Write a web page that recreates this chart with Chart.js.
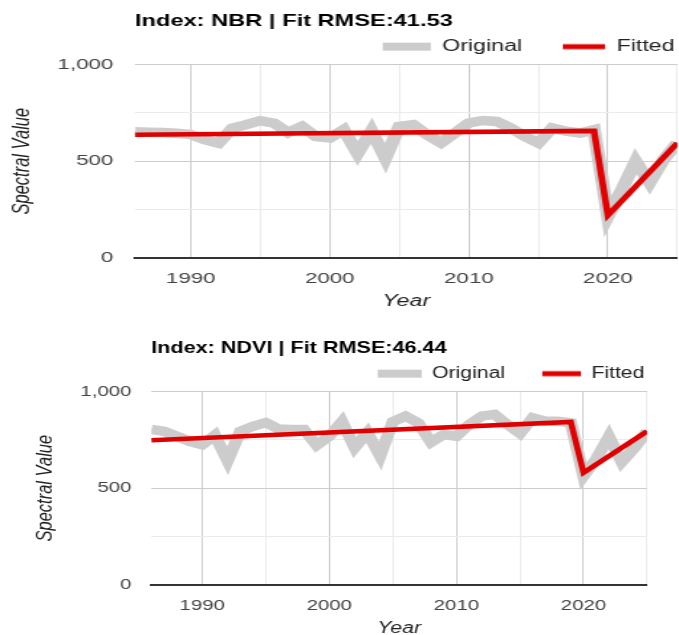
<!DOCTYPE html>
<html>
<head>
<meta charset="utf-8">
<script src="https://cdn.jsdelivr.net/npm/chart.js@4/dist/chart.umd.min.js"></script>
<style>
  html, body { margin: 0; padding: 0; background: #fff; width: 679px; height: 635px; overflow: hidden; }
  .wrap { position: absolute; left: 0; transform-origin: 0 0; }
  canvas { display: block; }
</style>
</head>
<body>
<div class="wrap" style="top:0px; transform:scaleX(1.4509);"><canvas id="c1" width="468" height="320"></canvas></div>
<div class="wrap" style="top:327px; transform:scaleX(1.3262);"><canvas id="c2" width="512" height="320"></canvas></div>
<script>
// ---------------- data ----------------
const years = [1986, 1987, 1988, 1989, 1990, 1991, 1992, 1993, 1994, 1995,
               1996, 1997, 1998, 1999, 2000, 2001, 2002, 2003, 2004, 2005,
               2006, 2007, 2008, 2009, 2010, 2011, 2012, 2013, 2014, 2015,
               2016, 2017, 2018, 2019, 2020, 2021, 2022, 2023, 2024, 2025];

const nbrOriginal = [652, 650, 648, 645, 638, 612, 593, 671, 689, 710,
                     697, 648, 680, 628, 620, 663, 540, 658, 515, 680,
                     689, 637, 594, 646, 698, 711, 706, 672, 629, 594,
                     672, 655, 646, 663, 214, 352, 500, 388, 508, 595];
const nbrFitYears = [1986, 2019, 2020, 2025];
const nbrFitted   = [637, 657, 220, 594];

const ndviOriginal = [805, 795, 769, 743, 725, 775, 642, 795, 821, 840,
                      807, 804, 804, 722, 769, 845, 710, 788, 667, 845,
                      873, 838, 738, 778, 769, 830, 873, 882, 830, 783,
                      865, 847, 847, 838, 563, 650, 767, 635, 708, 795];
const ndviFitYears = [1986, 2019, 2020, 2025];
const ndviFitted   = [748, 843, 580, 795];

const xTickLabels = [1990, 2000, 2010, 2020];
const yTickLabels = [0, 500, 1000];
const seriesNames = ['Original', 'Fitted'];

// ---------------- styling ----------------
const FONT = "'Liberation Sans', Arial, sans-serif";
const GRAY = '#cccccc';
const RED = '#e00000';

function makeSwatch(color, w, h) {
  const c = document.createElement('canvas');
  c.width = 55; c.height = 12;
  const g = c.getContext('2d');
  g.fillStyle = color;
  g.fillRect(55 - w, (12 - h) / 2, w, h);
  return c;
}
const swatches = [makeSwatch(GRAY, 33, 8), makeSwatch(RED, 29, 5)];

function buildChart(canvasId, titleText, original, fitYears, fitted, yAxisWidth, yTitlePad, rightPad) {
  const origData = years.map((yr, i) => ({ x: yr, y: original[i] }));
  const fitData = fitYears.map((yr, i) => ({ x: yr, y: fitted[i] }));
  return new Chart(document.getElementById(canvasId), {
    type: 'line',
    data: {
      datasets: [
        { label: seriesNames[0], data: origData, borderColor: GRAY, backgroundColor: GRAY,
          borderWidth: 9.5, pointRadius: 0, fill: false, tension: 0, order: 1 },
        { label: seriesNames[1], data: fitData, borderColor: RED, backgroundColor: RED,
          borderWidth: 4.6, pointRadius: 0, fill: false, tension: 0, order: 0 }
      ]
    },
    options: {
      responsive: false,
      animation: false,
      devicePixelRatio: 1,
      events: [],
      layout: { padding: { left: 0, top: 0, bottom: 0, right: rightPad } },
      plugins: {
        tooltip: { enabled: false },
        title: {
          display: true, text: titleText, align: 'start', fullSize: false,
          color: '#000', font: { family: FONT, size: 16.3, weight: 'bold' },
          padding: { top: 11.9, bottom: 5.2 }
        },
        legend: {
          display: true, position: 'top', align: 'end', fullSize: false,
          labels: {
            usePointStyle: true, pointStyleWidth: 55, padding: 2,
            color: '#222', font: { family: FONT, size: 16 },
            sort: (a, b) => a.datasetIndex - b.datasetIndex,
            generateLabels: (chart) => {
              const items = Chart.defaults.plugins.legend.labels.generateLabels(chart);
              items.forEach(it => { it.pointStyle = swatches[it.datasetIndex]; });
              return items;
            }
          }
        }
      },
      scales: {
        x: {
          type: 'linear', min: 1986, max: 2025,
          afterFit: (s) => { s.height = 62.3; },
          ticks: {
            stepSize: 5, includeBounds: false, autoSkip: false, maxRotation: 0, minRotation: 0,
            padding: 0, color: '#444', font: { family: FONT, size: 15.4 },
            callback: (v) => xTickLabels.includes(v) ? String(v) : ''
          },
          grid: {
            drawTicks: true, tickLength: 11.5, tickColor: 'rgba(0,0,0,0)', lineWidth: 1,
            color: (ctx) => (ctx.tick && xTickLabels.includes(ctx.tick.value)) ? '#cccccc' : '#ebebeb'
          },
          border: { display: true, color: '#333', width: 2 },
          title: {
            display: true, text: 'Year', color: '#222',
            font: { family: FONT, size: 16, style: 'italic' },
            padding: { top: 0, bottom: 8.7 }
          }
        },
        y: {
          min: 0, max: 1000,
          afterFit: (s) => { s.width = yAxisWidth; },
          ticks: {
            stepSize: 250, padding: 15, color: '#444', font: { family: FONT, size: 15.4 },
            callback: (v) => yTickLabels.includes(v) ? v.toLocaleString('en-US') : ''
          },
          grid: {
            drawTicks: false, lineWidth: 1,
            color: (ctx) => {
              if (!ctx.tick) return '#ebebeb';
              if (ctx.tick.value === 0) return 'rgba(0,0,0,0)';
              return yTickLabels.includes(ctx.tick.value) ? '#cccccc' : '#ebebeb';
            }
          },
          border: { display: false },
          title: {
            display: true, text: 'Spectral Value', color: '#222',
            font: { family: FONT, size: 16.5, style: 'italic' },
            padding: { top: yTitlePad, bottom: 0 }
          }
        }
      }
    }
  });
}

buildChart('c1', 'Index: NBR | Fit RMSE:41.53', nbrOriginal, nbrFitYears, nbrFitted, 93.1, 5.6, 1.1);
buildChart('c2', 'Index: NDVI | Fit RMSE:46.44', ndviOriginal, ndviFitYears, ndviFitted, 114.1, 24.8, 24.1);
</script>
</body>
</html>
